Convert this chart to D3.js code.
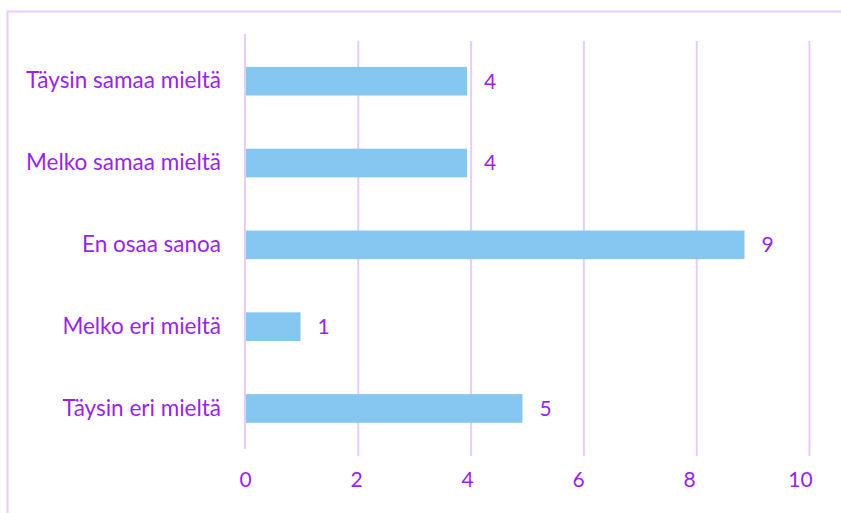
<!DOCTYPE html>
<html>
<head>
<meta charset="utf-8">
<script src="https://cdn.jsdelivr.net/npm/d3@7"></script>
<style>
  html, body { margin: 0; padding: 0; background: #fff; }
  svg { display: block; }
</style>
</head>
<body>
<svg id="chart" width="841" height="513"></svg>
<script>
// Survey answers and their counts (top to bottom)
const categories = ["Täysin samaa mieltä", "Melko samaa mieltä", "En osaa sanoa", "Melko eri mieltä", "Täysin eri mieltä"];
const counts = [4, 4, 9, 1, 5];
const tickValues = [0, 2, 4, 6, 8, 10];

const textColor = "#9a1eff";
const gridColor = "#e8ccff";
const barColor = "#85c7f0";
const fontFamily = "Lato, 'Open Sans', sans-serif";

const svg = d3.select("#chart");

// Outer frame
svg.append("rect")
  .attr("x", 7.5).attr("y", 11.5)
  .attr("width", 900).attr("height", 600)
  .attr("fill", "none")
  .attr("stroke", gridColor)
  .attr("stroke-width", 2);

// Value scale for bars and labels; gridlines are spread a little wider
const x = d3.scaleLinear().domain([0, 10]).range([245, 800]);
const xGrid = d3.scaleLinear().domain([0, 10]).range([245, 809]);
const y = d3.scaleBand().domain(categories).range([40.3, 449.4]).paddingInner(0.65).paddingOuter(0.325);

// Vertical gridlines
const gridAxis = d3.axisBottom(xGrid).tickValues(tickValues.slice(1)).tickSize(-415).tickFormat("");
const grid = svg.append("g").attr("transform", "translate(0,456)").call(gridAxis);
grid.select(".domain").remove();
grid.selectAll("line").attr("stroke", gridColor).attr("stroke-width", 2);

// Value axis (zero line)
svg.append("line")
  .attr("x1", x(0)).attr("x2", x(0))
  .attr("y1", 34).attr("y2", 449)
  .attr("stroke", gridColor).attr("stroke-width", 2);

// Bottom tick labels
const xAxis = d3.axisBottom(x).tickValues(tickValues).tickSize(0).tickPadding(0);
const xg = svg.append("g").attr("transform", "translate(0,480)").call(xAxis);
xg.select(".domain").remove();
xg.selectAll("text")
  .attr("dy", "0.35em")
  .attr("fill", textColor)
  .style("font-family", fontFamily)
  .style("font-size", "21px");

// Category labels
const yAxis = d3.axisLeft(y).tickSize(0).tickPadding(0);
const yg = svg.append("g").attr("transform", "translate(221,0)").call(yAxis);
yg.select(".domain").remove();
yg.selectAll("text")
  .attr("fill", textColor)
  .style("font-family", fontFamily)
  .style("font-size", "22.5px");

const data = categories.map((c, i) => ({ c, v: counts[i] }));

// Bars
svg.append("g").selectAll("rect").data(data).join("rect")
  .attr("x", x(0) + 1)
  .attr("y", d => y(d.c))
  .attr("width", d => x(d.v) - x(0) - 1)
  .attr("height", y.bandwidth())
  .attr("fill", barColor);

// Value labels
svg.append("g").selectAll("text").data(data).join("text")
  .attr("x", d => x(d.v) + 17)
  .attr("y", d => y(d.c) + y.bandwidth() / 2)
  .attr("dy", "0.35em")
  .attr("fill", textColor)
  .style("font-family", fontFamily)
  .style("font-size", "21px")
  .text(d => d.v);
</script>
</body>
</html>
